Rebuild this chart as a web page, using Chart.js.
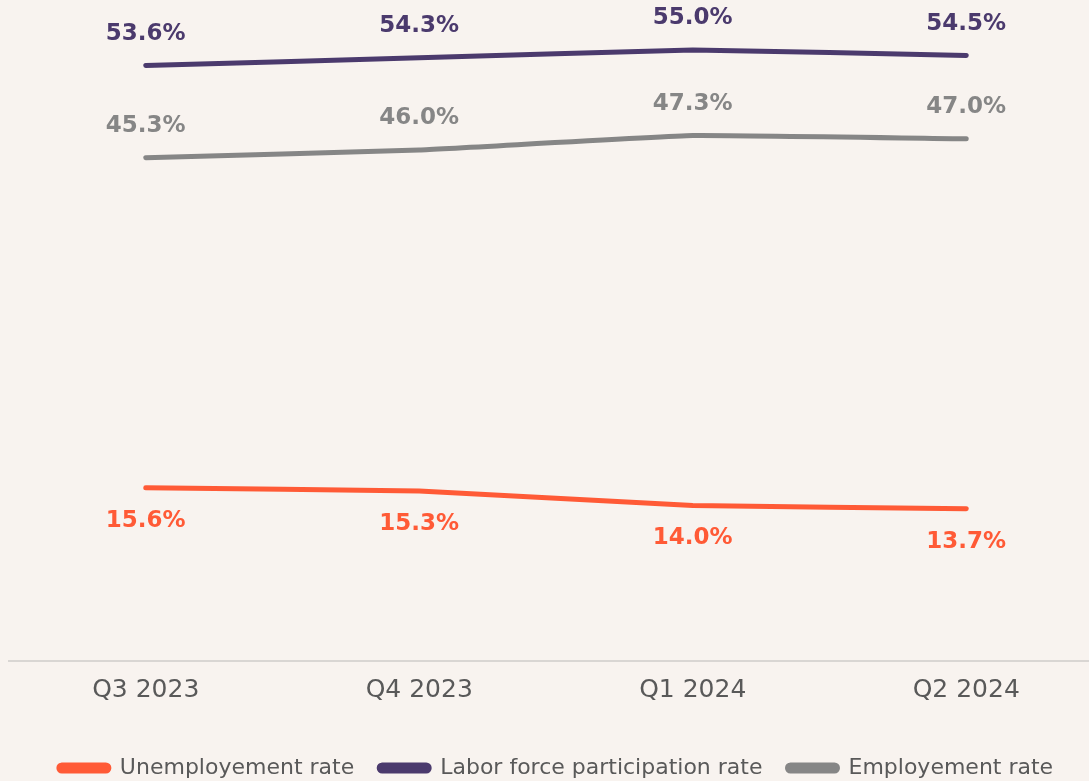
<!DOCTYPE html>
<html>
<head>
<meta charset="utf-8">
<script src="https://cdn.jsdelivr.net/npm/chart.js@4"></script>
<style>
  html, body { margin: 0; padding: 0; background: #f8f3ef; overflow: hidden; }
  #wrap { width: 1103px; height: 781px; position: relative; }
</style>
</head>
<body>
<div id="wrap"><canvas id="chart"></canvas></div>
<script>
var quarters = ['Q3 2023', 'Q4 2023', 'Q1 2024', 'Q2 2024'];
var unemployment = [15.6, 15.3, 14.0, 13.7];
var participation = [53.6, 54.3, 55.0, 54.5];
var employment = [45.3, 46.0, 47.3, 47.0];

var orange = '#ff5a36';
var purple = '#4b3a6d';
var grey = '#868686';

// labels above / below every point
var pointLabels = {
  id: 'pointLabels',
  afterDatasetsDraw: function(chart) {
    var ctx = chart.ctx;
    ctx.save();
    ctx.font = 'bold 23px "DejaVu Sans"';
    ctx.textAlign = 'center';
    ctx.textBaseline = 'middle';
    chart.data.datasets.forEach(function(ds, i) {
      var meta = chart.getDatasetMeta(i);
      ctx.fillStyle = ds.borderColor;
      meta.data.forEach(function(pt, j) {
        var dy = ds.labelBelow ? 33 : -32;
        ctx.fillText(ds.data[j].toFixed(1) + '%', pt.x, pt.y + dy);
      });
    });
    ctx.restore();
  }
};

var ctx = document.getElementById('chart').getContext('2d');
var chart = new Chart(ctx, {
  type: 'line',
  data: {
    labels: quarters,
    datasets: [{
      label: 'Unemployement rate',
      data: unemployment,
      borderColor: orange,
      backgroundColor: orange,
      labelBelow: true
    }, {
      label: 'Labor force participation rate',
      data: participation,
      borderColor: purple,
      backgroundColor: purple
    }, {
      label: 'Employement rate',
      data: employment,
      borderColor: grey,
      backgroundColor: grey
    }]
  },
  options: {
    responsive: true,
    maintainAspectRatio: false,
    animation: false,
    layout: { padding: { left: 9, right: 0, top: 0, bottom: -8 } },
    elements: {
      line: { borderWidth: 5, tension: 0.1, borderCapStyle: 'round' },
      point: { radius: 0, hoverRadius: 0 }
    },
    scales: {
      x: {
        offset: true,
        grid: { display: false, drawTicks: false },
        border: { display: true, color: '#d9d6d3', width: 2 },
        ticks: { color: '#595959', padding: 14, font: { family: 'DejaVu Sans', size: 25 } },
        // empty title only used as spacer above the legend
        title: { display: true, text: ' ', font: { size: 10, lineHeight: 1 }, padding: { top: 0, bottom: 3 } }
      },
      y: {
        display: false,
        min: 0,
        max: 59.5
      }
    },
    plugins: {
      tooltip: { enabled: false },
      legend: {
        position: 'bottom',
        labels: {
          boxWidth: 50,
          boxHeight: 6,
          padding: 25,
          useBorderRadius: true,
          borderRadius: 3,
          color: '#595959',
          font: { family: 'DejaVu Sans', size: 22 }
        }
      }
    }
  },
  plugins: [pointLabels]
});
</script>
</body>
</html>
